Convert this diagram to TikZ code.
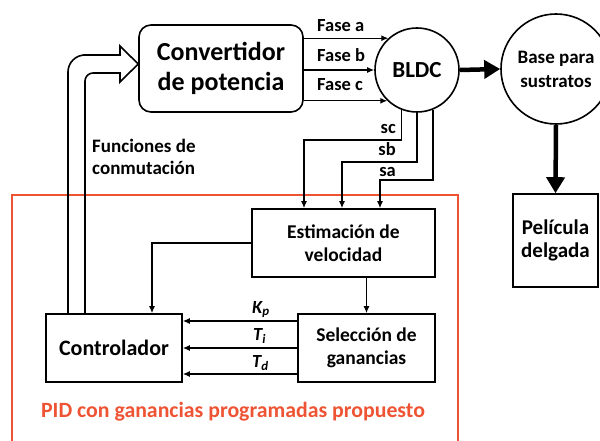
\documentclass[tikz,border=0pt]{standalone}
\usepackage{fontspec}
\setmainfont{Carlito}
\usepackage{tikz}
\usetikzlibrary{arrows.meta}
\definecolor{pidred}{RGB}{238,84,52}
\tikzset{
  blk/.style={draw,line width=1.6pt,align=center,inner sep=0pt,font=\fontsize{19.5}{23.5}\selectfont\bfseries},
  arr/.style={line width=1.2pt,-{Latex[length=7pt,width=6pt]}},
  fat arr/.style={line width=4.5pt,-{Triangle[length=16pt,width=18pt]}},
  lbl/.style={inner sep=0pt,font=\fontsize{18.5}{21}\selectfont\bfseries}
}

\begin{document}
\begin{tikzpicture}[x=1pt,y=-1pt]
\clip(0,0)rectangle(600,441);
\node[blk,rounded corners=12pt,minimum width=164pt,minimum height=87pt,font=\fontsize{26}{30}\selectfont\bfseries](conv)at(221,68.5){Convertidor\\de potencia};
\node[blk,circle,minimum size=84pt,font=\fontsize{23}{26}\selectfont\bfseries](bldc)at(417,70){BLDC};
\node[blk,circle,minimum size=110pt,font=\fontsize{19}{24}\selectfont\bfseries](base)at(556,69){Base para\\sustratos};
\node[blk,minimum width=85pt,minimum height=93pt,font=\fontsize{21}{23.5}\selectfont\bfseries](pel)at(555.5,240.5){Película\\delgada};
\node[blk,minimum width=183pt,minimum height=68pt](est)at(343.5,243){Estimación de\\velocidad};
\node[blk,minimum width=137pt,minimum height=68pt](sel)at(366.5,348){Selección de\\ganancias};
\node[blk,minimum width=136pt,minimum height=68pt,font=\fontsize{22}{24}\selectfont\bfseries](ctrl)at(114,348){Controlador};
\draw[pidred,line width=1.6pt](12,195)rectangle(458,460);
\node[text=pidred,anchor=base,inner sep=0pt,font=\fontsize{21.8}{24}\selectfont\bfseries](pid)at(233,417){PID con ganancias programadas propuesto};
\draw[arr](conv.east|-bldc.132)--(bldc.132);
\draw[arr](conv.east|-bldc.west)--(bldc.west);
\draw[arr](conv.east|-bldc.226)--(bldc.226);
\node[lbl,anchor=base west](fa)at(317,32){Fase a};
\node[lbl,anchor=base west](fb)at(317,62){Fase b};
\node[lbl,anchor=base west](fc)at(317,91){Fase c};
\draw[fat arr](bldc.east)--(base.west);
\draw[fat arr](base.south)--(pel.north);
\draw[arr](bldc.249)|-(304,140)--(est.north-|304,0);
\draw[arr](bldc.south)|-(342,162)--(est.north-|342,0);
\draw[arr](bldc.292)|-(380,180)--(est.north-|380,0);
\node[lbl,anchor=base east](sc)at(396,134){sc};
\node[lbl,anchor=base east](sb)at(396,156){sb};
\node[lbl,anchor=base east](sa)at(396,177){sa};
\draw[arr](est.west)-|(ctrl.north-|152,0);
\draw[arr](sel.north|-est.south)--(sel.north);
\draw[arr]([yshift=27pt]sel.west)--([yshift=27pt]ctrl.east);
\draw[arr](sel.west)--(ctrl.east);
\draw[arr]([yshift=-26pt]sel.west)--([yshift=-26pt]ctrl.east);
\node[lbl,anchor=base west](kp)at(252,313){\itshape K\textsubscript{p}};
\node[lbl,anchor=base west](ti)at(253,340){\itshape T\textsubscript{i}};
\node[lbl,anchor=base west](td)at(252,367){\itshape T\textsubscript{d}};
\node[lbl,anchor=west,align=left,font=\fontsize{19}{21.5}\selectfont\bfseries](fun)at(92,157){Funciones de\\conmutación};
\coordinate(tip)at(conv.west|-0,64);
\draw[line width=1.6pt](ctrl.north-|68,0)[rounded corners=17pt]|-(100,55)[sharp corners]--(120,55)--(120,46)--(tip)--(120,82)--(120,73)--(100,73)[rounded corners=8pt]-|(ctrl.north-|85,0);
\end{tikzpicture}
\end{document}
